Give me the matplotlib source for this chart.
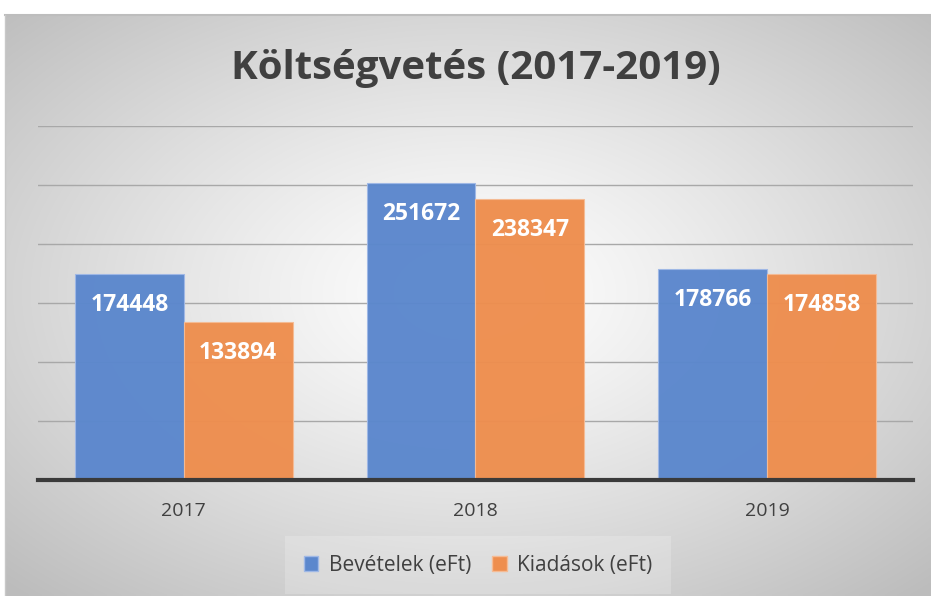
import numpy as np
import matplotlib
matplotlib.use("Agg")
import matplotlib.pyplot as plt
from matplotlib.patches import Patch

years = ["2017", "2018", "2019"]
bevetelek = [174448, 251672, 178766]
kiadasok = [133894, 238347, 174858]
series_names = ["Bevételek (eFt)", "Kiadások (eFt)"]
title = "Költségvetés (2017-2019)"

W, H = 931, 596
fig = plt.figure(figsize=(W / 100, H / 100), dpi=100)
fig.patch.set_facecolor("white")

# background with radial gradient
bx0, by0, bx1, by1 = 5, 15, 931, 596
bg = fig.add_axes([bx0 / W, 1 - by1 / H, (bx1 - bx0) / W, (by1 - by0) / H])
yy, xx = np.mgrid[0:200, 0:300]
cx, cy = 150, 95
r = np.sqrt(((xx - cx) / 150) ** 2 + ((yy - cy) / 100) ** 2) / np.sqrt(2)
r = np.clip(r, 0, 1)
v = 1.0 - 0.26 * r ** 1.2
img = np.dstack([v, v, v])
bg.imshow(img, aspect="auto", extent=[0, 1, 0, 1], interpolation="bilinear")
bg.set_xlim(0, 1); bg.set_ylim(0, 1)
bg.set_xticks([]); bg.set_yticks([])
for s in bg.spines.values():
    s.set_visible(False)
bg.plot([0, 1], [1, 1], color="#bdbdbd", lw=1.5, transform=bg.transAxes, clip_on=False)
bg.plot([0, 0], [0, 1], color="#c8c8c8", lw=1.0, transform=bg.transAxes, clip_on=False)

# main axes
left, right, top_px, bot_px = 38, 913, 126, 480
ax = fig.add_axes([left / W, 1 - bot_px / H, (right - left) / W, (bot_px - top_px) / H])
ax.patch.set_alpha(0)
x = np.arange(len(years))
w = 0.373
blue = "#5b87cd"
orange = "#ee8e4e"
b1 = ax.bar(x - w / 2, bevetelek, w, color=blue, edgecolor="#9fb8e6", lw=0.8, alpha=0.97, zorder=3)
b2 = ax.bar(x + w / 2, kiadasok, w, color=orange, edgecolor="#f5bb94", lw=0.8, alpha=0.97, zorder=3)
ax.set_xlim(-0.5, 2.5)
ax.set_ylim(0, 300000)
ax.set_yticks(np.arange(50000, 300001, 50000))
ax.yaxis.grid(True, color="#a8a8a8", lw=1.0, zorder=0)
ax.tick_params(axis="y", length=0, labelleft=False)
ax.tick_params(axis="x", length=0, pad=16, labelsize=14, labelcolor="#404040")
ax.set_xticks(x)
ax.set_xticklabels(years, family="Open Sans")
for s in ["top", "left", "right"]:
    ax.spines[s].set_visible(False)
ax.spines["bottom"].set_color("#3a3a3a")
ax.spines["bottom"].set_linewidth(3)
ax.spines["bottom"].set_zorder(5)

for bars, vals in ((b1, bevetelek), (b2, kiadasok)):
    for rect, val in zip(bars, vals):
        ax.annotate(f"{val}", (rect.get_x() + rect.get_width() / 2, val),
                    xytext=(0, -31), textcoords="offset pixels",
                    ha="center", va="center", color="white", fontsize=16.5,
                    fontweight="bold", family="Open Sans", zorder=6)

fig.text(476 / W, 1 - 68 / H, title, ha="center", va="center", fontsize=29,
         fontweight="bold", color="#404040", family="Open Sans")

handles = [Patch(facecolor=blue, edgecolor="#9fb8e6"), Patch(facecolor=orange, edgecolor="#f5bb94")]
leg = fig.legend(handles, series_names, loc="center", bbox_to_anchor=(478 / W, 1 - 565 / H),
                 ncol=2, frameon=True, handlelength=0.7, handleheight=0.7,
                 handletextpad=0.5, columnspacing=1.0, borderpad=0.9,
                 prop={"family": "Open Sans", "size": 15})
leg.get_frame().set_facecolor("white")
leg.get_frame().set_alpha(0.2)
leg.get_frame().set_edgecolor("none")
leg.get_frame().set_boxstyle("square", pad=0.0)
for t in leg.get_texts():
    t.set_color("#404040")

fig.savefig("out.png", dpi=100, facecolor="white")
